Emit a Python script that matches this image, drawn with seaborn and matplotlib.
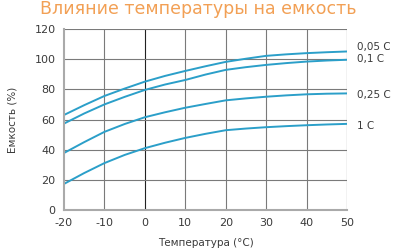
import numpy as np
import pandas as pd
import seaborn as sns
import matplotlib.pyplot as plt

sns.set_theme(style='white')
plt.rcParams['font.family'] = ['DejaVu Sans']
plt.rcParams['axes.unicode_minus'] = False

# температура, °C
temps = [-20, -15, -10, -5, 0, 5, 10, 15, 20, 25, 30, 35, 40, 45, 50]
cap_005 = [63, 69.5, 75.6, 80.5, 85.1, 88.9, 92.2, 95.3, 98.2, 100.3, 102.2, 103.2, 104, 104.6, 105.1]
cap_01 = [57.3, 64, 70, 75, 79.6, 83.2, 86.2, 89.8, 92.9, 94.7, 96.2, 97.4, 98.4, 99.1, 99.6]
cap_025 = [37.8, 45, 51.8, 57, 61.5, 64.8, 67.8, 70.3, 72.7, 74, 75.1, 76, 76.7, 77.1, 77.3]
cap_1 = [17.3, 24.5, 31.1, 36.5, 41, 44.6, 47.8, 50.5, 52.9, 54, 54.9, 55.6, 56.2, 56.7, 57.1]
series_names = ['0,05 C', '0,1 C', '0,25 C', '1 C']
label_y = [108, 100, 76, 56]

frames = []
for name, vals in zip(series_names, [cap_005, cap_01, cap_025, cap_1]):
    frames.append(pd.DataFrame({'temp': temps, 'cap': vals, 'rate': name}))
df = pd.concat(frames)

line_col = '#2b9fc9'
text_col = '#3a3a3a'

fig = plt.figure(figsize=(4, 2.5), dpi=100)
ax = fig.add_axes([0.16, 0.16, 0.7075, 0.724])

sns.lineplot(data=df, x='temp', y='cap', units='rate', estimator=None,
             color=line_col, lw=1.4, ax=ax, legend=False)

ax.set_xlim(-20, 50)
ax.set_ylim(0, 120)
ax.set_xticks(range(-20, 51, 10))
ax.set_yticks(range(0, 121, 20))
for x in range(-10, 51, 10):
    ax.axvline(x, color='#222222' if x in (0, 50) else '#7a7a7a', lw=0.8, zorder=0)
for y in range(20, 121, 20):
    ax.axhline(y, color='#7a7a7a', lw=0.8, zorder=0)

for s in ['top', 'right']:
    ax.spines[s].set_visible(False)
for s in ['left', 'bottom']:
    ax.spines[s].set_color('#aaaaaa')
    ax.spines[s].set_linewidth(1.5)

ax.tick_params(axis='both', length=0, labelsize=8, labelcolor=text_col, pad=6)
ax.set_xlabel('Температура (°C)', fontsize=7.5, color=text_col, labelpad=7)
ax.set_ylabel('Емкость (%)', fontsize=7.5, color=text_col, labelpad=12)

for name, y in zip(series_names, label_y):
    ax.text(52.5, y, name, fontsize=7.5, color=text_col, va='center', ha='left', clip_on=False)

fig.text(0.495, 0.962, 'Влияние температуры на емкость', fontsize=12.5,
         color='#f2a055', ha='center', va='center')

fig.savefig('out.png', dpi=100)
